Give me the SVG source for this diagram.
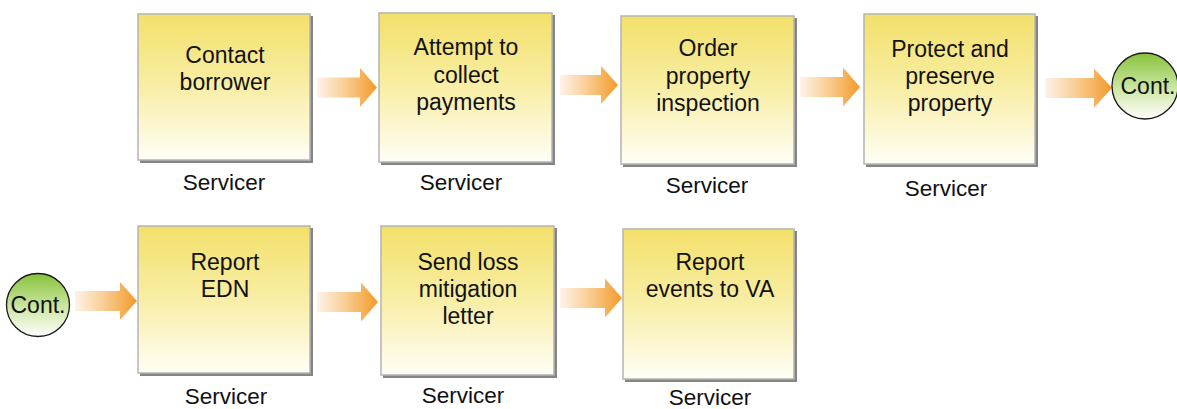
<svg xmlns="http://www.w3.org/2000/svg" width="1177" height="409" viewBox="0 0 1177 409">
<defs>
<linearGradient id="boxFill" x1="0" y1="0" x2="0" y2="1">
<stop offset="0" stop-color="#f3e06a"/>
<stop offset="0.5" stop-color="#f8eea6"/>
<stop offset="1" stop-color="#fffef6"/>
</linearGradient>
<linearGradient id="arrFill" x1="0" y1="0" x2="1" y2="0">
<stop offset="0" stop-color="#fdf3ea"/>
<stop offset="0.45" stop-color="#f9cf96"/>
<stop offset="1" stop-color="#f39a2a"/>
</linearGradient>
<linearGradient id="circFill" x1="0" y1="0" x2="0" y2="1">
<stop offset="0" stop-color="#86c23a"/>
<stop offset="0.55" stop-color="#cfe7a6"/>
<stop offset="1" stop-color="#ffffff"/>
</linearGradient>
</defs>
<style>
.shadow{fill:#858585;}
.box{fill:url(#boxFill);stroke:#b4b4b4;stroke-width:1.5;}
.arrow{fill:url(#arrFill);}
.circ{fill:url(#circFill);stroke:#1a1a1a;stroke-width:1.3;}
.t{font-family:"Liberation Sans",Arial,sans-serif;font-size:23px;fill:#111;text-anchor:middle;}
.lbl{font-family:"Liberation Sans",Arial,sans-serif;font-size:22.5px;fill:#111;text-anchor:middle;}
</style>
<rect width="1177" height="409" fill="#ffffff"/>

<g id="connectors">
<path class="arrow" d="M317,77.5 H360 V68 L377,87.5 L360,107 V97.5 H317 Z"/>
<path class="arrow" d="M560,75 H601 V66 L618,85 L601,104 V95 H560 Z"/>
<path class="arrow" d="M800,77 H843 V67.5 L860,87 L843,106.5 V97 H800 Z"/>
<path class="arrow" d="M1045,78 H1094 V68.5 L1112,88 L1094,107.5 V98 H1045 Z"/>
<path class="arrow" d="M75,291 H120 V282 L137,301 L120,320 V311 H75 Z"/>
<path class="arrow" d="M317,292 H361 V282.5 L378,302 L361,321.5 V312 H317 Z"/>
<path class="arrow" d="M560,288 H605 V278.5 L622,298 L605,317.5 V308 H560 Z"/>
</g>

<g id="node1">
<rect class="shadow" x="140" y="16" width="173" height="147"/>
<rect class="box" x="138" y="14" width="172" height="146"/>
<text class="t" x="225" y="63">Contact</text>
<text class="t" x="225" y="90">borrower</text>
<text class="lbl" x="224" y="190">Servicer</text>
</g>

<g id="node2">
<rect class="shadow" x="381" y="15" width="174" height="150"/>
<rect class="box" x="379" y="13" width="173" height="149"/>
<text class="t" x="466" y="55">Attempt to</text>
<text class="t" x="466" y="83">collect</text>
<text class="t" x="466" y="110">payments</text>
<text class="lbl" x="461" y="190">Servicer</text>
</g>

<g id="node3">
<rect class="shadow" x="623" y="18" width="174" height="149"/>
<rect class="box" x="621" y="16" width="173" height="148"/>
<text class="t" x="708" y="56">Order</text>
<text class="t" x="708" y="84">property</text>
<text class="t" x="708" y="111">inspection</text>
<text class="lbl" x="707" y="193">Servicer</text>
</g>

<g id="node4">
<rect class="shadow" x="866" y="16" width="172" height="151"/>
<rect class="box" x="864" y="14" width="171" height="150"/>
<text class="t" x="950" y="57">Protect and</text>
<text class="t" x="950" y="84">preserve</text>
<text class="t" x="950" y="111">property</text>
<text class="lbl" x="946" y="196">Servicer</text>
</g>

<g id="cont-out">
<circle class="circ" cx="1145" cy="86" r="33"/>
<text class="t" x="1148" y="94">Cont.</text>
</g>

<g id="cont-in">
<circle class="circ" cx="38" cy="305" r="31.5"/>
<text class="t" x="38" y="313">Cont.</text>
</g>

<g id="node5">
<rect class="shadow" x="140" y="228" width="173" height="148"/>
<rect class="box" x="138" y="226" width="172" height="147"/>
<text class="t" x="225" y="270">Report</text>
<text class="t" x="225" y="297">EDN</text>
<text class="lbl" x="226" y="404">Servicer</text>
</g>

<g id="node6">
<rect class="shadow" x="383" y="228" width="174" height="150"/>
<rect class="box" x="381" y="226" width="173" height="149"/>
<text class="t" x="468" y="270">Send loss</text>
<text class="t" x="468" y="297">mitigation</text>
<text class="t" x="468" y="324">letter</text>
<text class="lbl" x="463" y="403">Servicer</text>
</g>

<g id="node7">
<rect class="shadow" x="625" y="231" width="172" height="151"/>
<rect class="box" x="623" y="229" width="171" height="150"/>
<text class="t" x="710" y="270">Report</text>
<text class="t" x="710" y="297">events to VA</text>
<text class="lbl" x="710" y="405">Servicer</text>
</g>
</svg>
